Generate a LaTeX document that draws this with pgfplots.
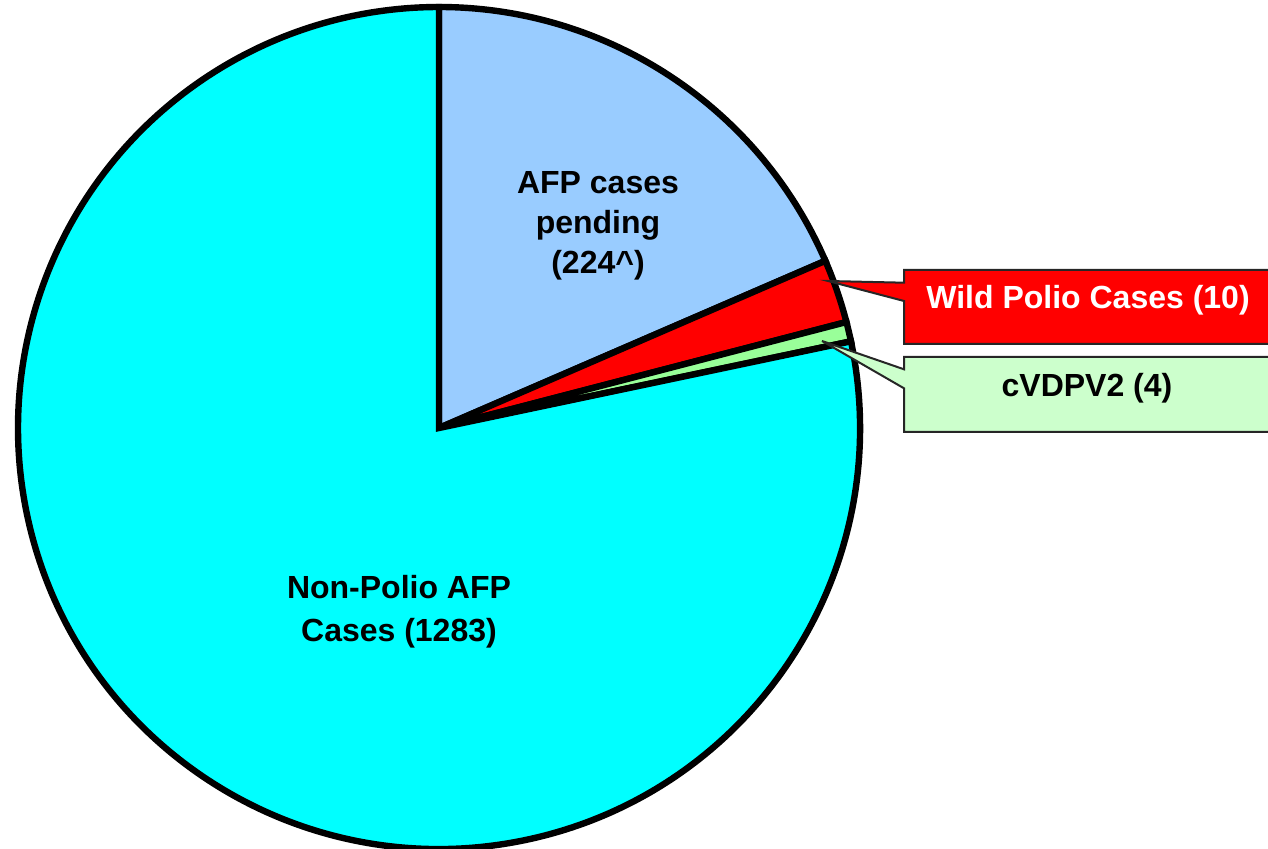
\documentclass[border=0pt]{standalone}
\usepackage{pgfplots}
\pgfplotsset{compat=1.18}
\usepackage{pgfplotstable}
\usepackage{fontspec}
\setmainfont{Liberation Sans}
\definecolor{cnon}{HTML}{00FFFF}
\definecolor{cpend}{HTML}{99CCFF}
\definecolor{cwild}{HTML}{FF0000}
\definecolor{ccv}{HTML}{99FF99}
\definecolor{ccvbox}{HTML}{CCFFCC}
% slice shares (percent of the pie)
\pgfplotstableread{
name value
pending 18.5
wild 2.45
cvdpv 0.75
nonpolio 78.3
}\piedata
\begin{document}
\begin{tikzpicture}
\pgfplotstablegetelem{0}{value}\of\piedata \let\vA\pgfplotsretval
\pgfplotstablegetelem{1}{value}\of\piedata \let\vB\pgfplotsretval
\pgfplotstablegetelem{2}{value}\of\piedata \let\vC\pgfplotsretval
\pgfplotstablegetelem{3}{value}\of\piedata \let\vD\pgfplotsretval
\pgfmathsetmacro\aA{90}
\pgfmathsetmacro\aB{\aA-3.6*\vA}
\pgfmathsetmacro\aC{\aB-3.6*\vB}
\pgfmathsetmacro\aD{\aC-3.6*\vC}
\pgfmathsetmacro\aE{\aD-3.6*\vD}
\def\R{210.5pt}
\begin{axis}[name=ax, width=634pt, height=424.5pt, scale only axis,
  xmin=0, xmax=1268, ymin=0, ymax=849, y dir=reverse, hide axis, clip=false]
\filldraw[fill=cpend, draw=black, line width=3.2pt, line join=miter]
  (axis cs:439,428) -- ++(\aA:\R) arc[start angle=\aA, end angle=\aB, radius=\R] -- cycle;
\filldraw[fill=cwild, draw=black, line width=3.2pt, line join=miter]
  (axis cs:439,428) -- ++(\aB:\R) arc[start angle=\aB, end angle=\aC, radius=\R] -- cycle;
\filldraw[fill=ccv, draw=black, line width=3.2pt, line join=miter]
  (axis cs:439,428) -- ++(\aC:\R) arc[start angle=\aC, end angle=\aD, radius=\R] -- cycle;
\filldraw[fill=cnon, draw=black, line width=3.2pt, line join=miter]
  (axis cs:439,428) -- ++(\aD:\R) arc[start angle=\aD, end angle=\aE, radius=\R] -- cycle;
% callouts
\filldraw[fill=cwild, draw=black!85, line width=1pt]
  (axis cs:904,270) -- (axis cs:1269,270) -- (axis cs:1269,344) -- (axis cs:904,344)
  -- (axis cs:904,301) -- (axis cs:828,281) -- (axis cs:904,282.7) -- cycle;
\filldraw[fill=ccvbox, draw=black!85, line width=1pt]
  (axis cs:904,357) -- (axis cs:1269,357) -- (axis cs:1269,432) -- (axis cs:904,432)
  -- (axis cs:904,388.3) -- (axis cs:822,341) -- (axis cs:904,369.3) -- cycle;
\node[font=\bfseries\fontsize{16pt}{19pt}\selectfont, text=white] at (axis cs:1088,300) {Wild Polio Cases (10)};
\node[font=\bfseries\fontsize{16pt}{19pt}\selectfont, text=black] at (axis cs:1087,388) {cVDPV2 (4)};
\node[font=\bfseries\fontsize{16pt}{20pt}\selectfont, align=center] at (axis cs:598,226) {AFP cases\\pending\\(224\textasciicircum)};
\node[font=\bfseries\fontsize{16pt}{21.5pt}\selectfont, align=center] at (axis cs:399,612) {Non-Polio AFP\\Cases (1283)};
\end{axis}
\pgfresetboundingbox
\useasboundingbox (ax.south west) rectangle (ax.north east);
\end{tikzpicture}
\end{document}
